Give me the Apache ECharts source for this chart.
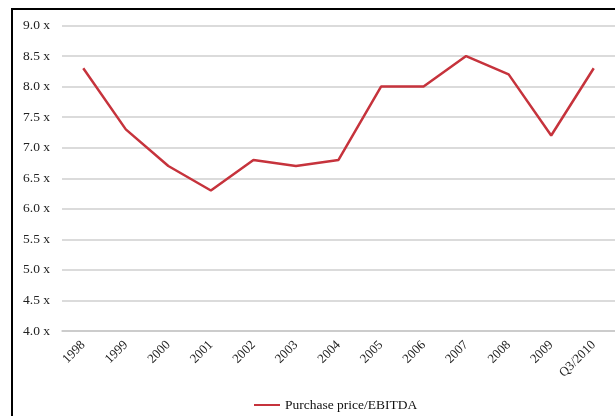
<!DOCTYPE html>
<html>
<head>
<meta charset="utf-8">
<script src="https://cdn.jsdelivr.net/npm/echarts@6/dist/echarts.min.js"></script>
<style>
  html, body { margin: 0; padding: 0; background: #fff; }
  #chart { width: 615px; height: 416px; }
</style>
</head>
<body>
<div id="chart"></div>
<script>
// Purchase price / EBITDA multiples by year
const years = ['1998', '1999', '2000', '2001', '2002', '2003', '2004', '2005', '2006', '2007', '2008', '2009', 'Q3/2010'];
const multiples = [8.3, 7.3, 6.7, 6.3, 6.8, 6.7, 6.8, 8.0, 8.0, 8.5, 8.2, 7.2, 8.3];
const seriesName = 'Purchase price/EBITDA';

const serif = '"Liberation Serif", "DejaVu Serif", serif';

const chart = echarts.init(document.getElementById('chart'));
chart.setOption({
  animation: false,
  backgroundColor: '#fff',
  grid: { left: 62, top: 25.5, width: 556, height: 305.5 },
  graphic: [
    { type: 'line', shape: { x1: 12, y1: 9, x2: 615, y2: 9 }, style: { stroke: '#000', lineWidth: 2 } },
    { type: 'line', shape: { x1: 12, y1: 8, x2: 12, y2: 416 }, style: { stroke: '#000', lineWidth: 2 } }
  ],
  legend: {
    data: [seriesName],
    top: 393,
    left: 249,
    itemWidth: 26,
    itemHeight: 2,
    icon: 'rect',
    itemGap: 4,
    textStyle: { fontFamily: serif, fontSize: 13.5, color: '#111' }
  },
  xAxis: {
    type: 'category',
    data: years,
    boundaryGap: true,
    axisLine: { lineStyle: { color: '#c8c8c8', width: 1.5 } },
    axisTick: { show: false },
    axisLabel: { rotate: 45, fontFamily: serif, fontSize: 13, color: '#222', margin: 12, interval: 0 }
  },
  yAxis: {
    type: 'value',
    min: 4,
    max: 9,
    interval: 0.5,
    axisLine: { show: false },
    axisTick: { show: false },
    splitLine: { lineStyle: { color: '#cfcfcf', width: 1.5 } },
    axisLabel: {
      fontFamily: serif, fontSize: 13.5, color: '#222', margin: 12,
      formatter: v => v.toFixed(1) + ' x'
    }
  },
  series: [{
    name: seriesName,
    type: 'line',
    data: multiples,
    symbol: 'none',
    lineStyle: { color: '#c6333c', width: 2.5 },
    itemStyle: { color: '#c6333c' }
  }]
});
</script>
</body>
</html>
